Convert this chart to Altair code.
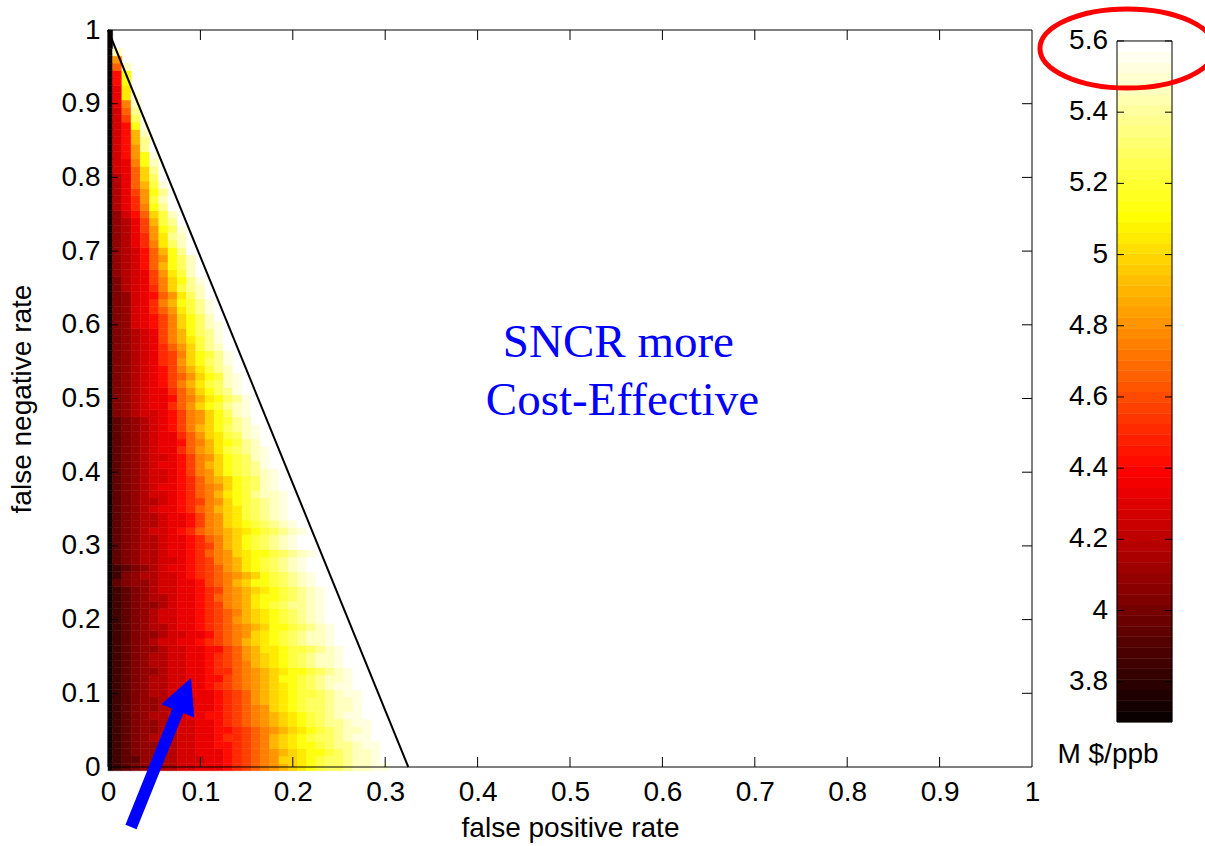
import altair as alt
import pandas as pd

# ---------------- data ----------------
# Heat map: one string per false-negative-rate row (0.00, 0.01, ... 1.00, bottom to top),
# one letter per false-positive-rate column (0.00, 0.01, ...). Letters are cost levels.
ROWS = [
    "acdeffgghhiiijklmnopqrstuuvwwxxyy",
    "acddffgghhhiijklmnoqqrstuuvwwxyyy",
    "acdeffgghhiiijklmnopqrsstuvwwxyy",
    "acdeffgghhiijjklmnpqrsstuvvwxxyy",
    "acdefggghhiijkklmnpqrstuuvwxxyyy",
    "acdeffgghhiijjklmnopqrstuvwwxyy",
    "acdeffgghhiijklmnopqrstuvvwxxyy",
    "acdefgghhiijjklmnopqrstuvwxxyyy",
    "acdeffgghhiijklmnoqrstuuvwwxyy",
    "acdeffgghhiijklmopqrstuuvwwxyy",
    "acdefgghhiiijklmopqrsttuvwxxyy",
    "acdefgghhiijklmnopqrstuvwxxyy",
    "acdefgghhiijjlmnopqsstuvwwxyy",
    "acdeffghhiijkkmnopqrsstuvwxyy",
    "acdefgghhiijklmnpqrstuvwwxyy",
    "acdefgghhiijklmopqrstuvwwxyy",
    "acdeffghhiijjlmoprrsttuvwxyy",
    "acdefghhiijklmnpqrstuvwwxyy",
    "acdeffghhiijlmnoqrstuvwwxyy",
    "acdefgghiijklmnopqsstuvwxyy",
    "acdefghhiijklmopqrstuvwxyyy",
    "acdefghhiijklmnpqrstuvwxyy",
    "acdeffghiijklnoprstuvvwxyy",
    "acdefgghiijkmnoprsstuvwxyy",
    "acdefghhiijklnopqrstuvwxy",
    "adeffghhiijlmnpqsstuvwxyy",
    "acefgghhijklmnopqstuvwxyy",
    "acdefghiijklmoprstuvwxyy",
    "adefgghhijklnoprstuvwxyy",
    "adefgghiijkmnoqrsstuvwxy",
    "adefgghiijklnpqstuvwxyy",
    "adefgghiijkmnpqstuvwxyy",
    "adefghhijkmnopqrstuvwxy",
    "adefgghiijlnoqrstuvwxy",
    "adefgghiijlnoqrtuvwxyy",
    "adefghiijkmnpqrtuvwxyy",
    "adefgghijklnoqstuvwxy",
    "adefghhijkmnprstvwwxy",
    "adefghiijkmnoqstuwxyy",
    "adefghhijkmopqstuwxy",
    "adefghhijlnoqstuvwxy",
    "adefghiijlnpqstuvxyy",
    "adefghhijlnoqstuwxy",
    "adefghiikmoprtuvwxy",
    "adefghiijmnprstvwyy",
    "adefghiikmoqrtuwxy",
    "adefghijlnpqsuvwxy",
    "adefghijlnoqstvwyy",
    "aefghhijlnoqsuwxy",
    "aefghiikmoqstvwxy",
    "aefghiijmnprsuvxy",
    "aefghiikmoqsuvxy",
    "aefghijlnprtuwxy",
    "aefghijlmoqstwxy",
    "aefghijlnprtvwy",
    "aefghikloqsuvxy",
    "aefghiklnqstvxy",
    "aefghikmoqtvwy",
    "aefghilnprtvxy",
    "aefghilnpsuvxy",
    "aefhijlnqsuwxy",
    "aefhijlnqsuwy",
    "aefhikmortvxy",
    "aefhiknpstvxy",
    "aefhijmoruwy",
    "aeghiknqtvwy",
    "aeghilnqsvxy",
    "afghilortwy",
    "afghjmpsuwy",
    "afghjmosuwy",
    "afghjmpsvy",
    "afgiknruwy",
    "afgikorvwy",
    "afgilosux",
    "afgilptvy",
    "afhjmqtwy",
    "agiknsvy",
    "agikotwy",
    "agilosvy",
    "agimptx",
    "agimquy",
    "ahimqvy",
    "ahinsw",
    "ahjosx",
    "ahjovy",
    "ahjpv",
    "ahjpw",
    "ahjsx",
    "ahlu",
    "ahmv",
    "ainw",
    "airx",
    "air",
    "ajs",
    "ajs",
    "amw",
    "ao",
    "aw",
    "a",
    "a",
    "a",
]
LEVEL_CODES = "abcdefghijklmnopqrstuvwxy"
LEVEL_VALUES = [3.70, 3.78, 3.86, 3.94, 4.02, 4.10, 4.18, 4.26, 4.34, 4.42,
                4.50, 4.58, 4.66, 4.74, 4.82, 4.90, 4.98, 5.06, 5.14, 5.22,
                5.30, 5.38, 5.46, 5.54, 5.62]
GRID_STEP = 0.01

AXIS_TICKS = [0, 0.1, 0.2, 0.3, 0.4, 0.5, 0.6, 0.7, 0.8, 0.9, 1]
CBAR_TICKS = [3.8, 4.0, 4.2, 4.4, 4.6, 4.8, 5.0, 5.2, 5.4, 5.6]
CBAR_TICK_LABELS = ["3.8", "4", "4.2", "4.4", "4.6", "4.8", "5", "5.2", "5.4", "5.6"]
CBAR_RANGE = [3.687, 5.6]
CBAR_UNIT = ["M $/ppb"]
# part of the vertical axis (0..1) that the colour bar spans, bottom and top
CBAR_SPAN = [0.0611, 0.9851]

BOUNDARY_X = [0.0, 0.325]
BOUNDARY_Y = [1.0, 0.0]

NOTE_TEXT = ["SNCR more", "Cost-Effective"]
NOTE_X = [0.5524, 0.5568]
NOTE_Y = [0.5563, 0.4776]

ARROW_TAIL = [0.0249, -0.0814]
ARROW_HEAD = [0.0827, 0.0984]
ARROW_ANGLE = 21.96

ELLIPSE_CENTER = [1.1032, 0.9749]

# ---------------- helpers ----------------
def hot64():
    cols = []
    for j in range(1, 65):
        r = min(j / 24, 1.0)
        g = min(max((j - 24) / 24, 0.0), 1.0)
        b = min(max((j - 48) / 16, 0.0), 1.0)
        cols.append("#%02x%02x%02x" % (round(r * 255), round(g * 255), round(b * 255)))
    return cols

HOT = hot64()
lookup = dict(zip(LEVEL_CODES, LEVEL_VALUES))

recs = []
for k, row in enumerate(ROWS):
    yc = k * GRID_STEP
    for i, ch in enumerate(row):
        xc = i * GRID_STEP
        recs.append({
            "x0": max(0.0, xc - GRID_STEP / 2), "x1": xc + GRID_STEP / 2,
            "y0": yc - GRID_STEP / 2, "y1": min(1.0, yc + GRID_STEP / 2),
            "v": lookup[ch],
        })
heat_df = pd.DataFrame(recs)

n_b = len(HOT)
b_step = (CBAR_RANGE[1] - CBAR_RANGE[0]) / n_b
bands_df = pd.DataFrame({
    "lo": [CBAR_RANGE[0] + j * b_step for j in range(n_b)],
    "hi": [CBAR_RANGE[0] + (j + 1) * b_step for j in range(n_b)],
    "mid": [CBAR_RANGE[0] + (j + 0.5) * b_step for j in range(n_b)],
})

FONT = "Liberation Sans"
SERIF = "Liberation Serif"
W, H = 924, 737
CB_X0, CB_X1 = 1009, 1064

# expression placing a colour-bar value on the vertical axis
_k = (CBAR_SPAN[1] - CBAR_SPAN[0]) / (CBAR_RANGE[1] - CBAR_RANGE[0])
def cb_pos(field):
    return f"{CBAR_SPAN[0]} + (datum.{field} - {CBAR_RANGE[0]}) * {_k}"

XS = alt.Scale(domain=[0, 1], nice=False, zero=False)
YS = alt.Scale(domain=[0, 1], nice=False, zero=False)
CS = alt.Scale(type="quantize", domain=CBAR_RANGE, range=HOT)

x_axis = alt.Axis(values=AXIS_TICKS, format="~g", title="false positive rate",
                  ticks=False, domain=False, grid=False, orient="bottom",
                  labelFont=FONT, labelFontSize=28, labelColor="black", labelPadding=11,
                  labelFlush=False, labelOverlap=False,
                  titleFont=FONT, titleFontSize=28, titleFontWeight="normal", titleColor="black",
                  titleX=W / 2, titleY=61, titleBaseline="middle", titleAlign="center")
y_axis = alt.Axis(values=AXIS_TICKS, format="~g", title="false negative rate",
                  ticks=False, domain=False, grid=False, orient="left",
                  labelFont=FONT, labelFontSize=28, labelColor="black", labelPadding=8,
                  labelFlush=False, labelOverlap=False,
                  titleFont=FONT, titleFontSize=28, titleFontWeight="normal", titleColor="black",
                  titleX=-86, titleY=H / 2, titleAngle=270, titleBaseline="middle", titleAlign="center")

heat = alt.Chart(heat_df).mark_rect(strokeWidth=0.5).encode(
    x=alt.X("x0:Q", scale=XS, axis=x_axis), x2="x1:Q",
    y=alt.Y("y0:Q", scale=YS, axis=y_axis), y2="y1:Q",
    color=alt.Color("v:Q", scale=CS, legend=None),
    stroke=alt.Stroke("v:Q", scale=CS, legend=None),
)

box = alt.Chart(pd.DataFrame({"x0": [0.0], "x1": [1.0], "y0": [0.0], "y1": [1.0]})).mark_rect(
    fill="transparent", stroke="black", strokeWidth=1).encode(
    x=alt.X("x0:Q", scale=XS), x2="x1:Q",
    y=alt.Y("y0:Q", scale=YS), y2="y1:Q")

tick_df = pd.DataFrame({"t": AXIS_TICKS[1:-1]})
TL = 10
t_bottom = alt.Chart(tick_df).mark_rule(color="black", strokeWidth=1).encode(
    x=alt.X("t:Q", scale=XS), y=alt.value(H), y2=alt.value(H - TL))
t_top = alt.Chart(tick_df).mark_rule(color="black", strokeWidth=1).encode(
    x=alt.X("t:Q", scale=XS), y=alt.value(0), y2=alt.value(TL))
t_left = alt.Chart(tick_df).mark_rule(color="black", strokeWidth=1).encode(
    y=alt.Y("t:Q", scale=YS), x=alt.value(0), x2=alt.value(TL))
t_right = alt.Chart(tick_df).mark_rule(color="black", strokeWidth=1).encode(
    y=alt.Y("t:Q", scale=YS), x=alt.value(W), x2=alt.value(W - TL))

bnd = alt.Chart(pd.DataFrame({"x": BOUNDARY_X, "y": BOUNDARY_Y})).mark_line(
    color="black", strokeWidth=2).encode(
    x=alt.X("x:Q", scale=XS), y=alt.Y("y:Q", scale=YS))

notes = alt.Chart(pd.DataFrame({"x": NOTE_X, "y": NOTE_Y, "t": NOTE_TEXT})).mark_text(
    font=SERIF, fontSize=47, color="#0000ff", align="center", baseline="alphabetic").encode(
    x=alt.X("x:Q", scale=XS), y=alt.Y("y:Q", scale=YS), text="t:N")

arrow_df = pd.DataFrame({"x": [ARROW_TAIL[0]], "y": [ARROW_TAIL[1]],
                         "x2": [ARROW_HEAD[0]], "y2": [ARROW_HEAD[1]]})
shaft = alt.Chart(arrow_df).mark_rule(color="#0000ff", strokeWidth=12, strokeCap="butt").encode(
    x=alt.X("x:Q", scale=XS), y=alt.Y("y:Q", scale=YS),
    x2="x2:Q", y2="y2:Q")
head = alt.Chart(arrow_df).mark_point(
    shape="M0,-1L1,1L-1,1Z", size=1260, angle=ARROW_ANGLE, filled=True,
    color="#0000ff", opacity=1, strokeWidth=0).encode(
    x=alt.X("x2:Q", scale=XS), y=alt.Y("y2:Q", scale=YS))

# colour bar
cb_bands = alt.Chart(bands_df).transform_calculate(
    ylo=cb_pos("lo"), yhi=cb_pos("hi")
).mark_rect(strokeWidth=0.5).encode(
    x=alt.value(CB_X0), x2=alt.value(CB_X1),
    y=alt.Y("ylo:Q", scale=YS), y2="yhi:Q",
    color=alt.Color("mid:Q", scale=CS, legend=None),
    stroke=alt.Stroke("mid:Q", scale=CS, legend=None))
cb_frame = alt.Chart(pd.DataFrame({"lo": [CBAR_RANGE[0]], "hi": [CBAR_RANGE[1]]})).transform_calculate(
    ylo=cb_pos("lo"), yhi=cb_pos("hi")
).mark_rect(fill="transparent", stroke="black", strokeWidth=1).encode(
    x=alt.value(CB_X0), x2=alt.value(CB_X1),
    y=alt.Y("ylo:Q", scale=YS), y2="yhi:Q")
cbt_df = pd.DataFrame({"t": CBAR_TICKS, "label": CBAR_TICK_LABELS})
cb_tl = alt.Chart(cbt_df).transform_calculate(yt=cb_pos("t")).mark_rule(
    color="black", strokeWidth=1).encode(
    y=alt.Y("yt:Q", scale=YS), x=alt.value(CB_X0), x2=alt.value(CB_X0 + 7))
cb_tr = alt.Chart(cbt_df).transform_calculate(yt=cb_pos("t")).mark_rule(
    color="black", strokeWidth=1).encode(
    y=alt.Y("yt:Q", scale=YS), x=alt.value(CB_X1), x2=alt.value(CB_X1 - 7))
cb_lab = alt.Chart(cbt_df).transform_calculate(yt=cb_pos("t")).mark_text(
    font=FONT, fontSize=28, color="black", align="right", baseline="middle").encode(
    y=alt.Y("yt:Q", scale=YS), x=alt.value(CB_X0 - 9), text="label:N")
cb_unit = alt.Chart(pd.DataFrame({"u": CBAR_UNIT})).mark_text(
    font=FONT, fontSize=28, color="black", align="center", baseline="alphabetic").encode(
    x=alt.value(1000), y=alt.value(733), text="u:N")

# red ellipse highlighting the top of the colour bar
ELLIPSE_PATH = ("M1,0C1,0.2496,0.5523,0.452,0,0.452C-0.5523,0.452,-1,0.2496,-1,0"
                "C-1,-0.2496,-0.5523,-0.452,0,-0.452C0.5523,-0.452,1,-0.2496,1,0Z")
ell = alt.Chart(pd.DataFrame({"x": [ELLIPSE_CENTER[0]], "y": [ELLIPSE_CENTER[1]]})).mark_point(
    shape=ELLIPSE_PATH, size=30555, filled=False, color="#ff0000", strokeWidth=5, opacity=1).encode(
    x=alt.X("x:Q", scale=XS), y=alt.Y("y:Q", scale=YS))

chart = alt.layer(
    heat, box, t_bottom, t_top, t_left, t_right, bnd, notes, shaft, head,
    cb_bands, cb_frame, cb_tl, cb_tr, cb_lab, cb_unit, ell,
).properties(
    width=W, height=H,
    padding={"left": 108, "top": 30, "right": 173, "bottom": 79},
    autosize=alt.AutoSizeParams(type="none"),
    background="white",
).configure_view(strokeWidth=0)

chart.save("out.html", embed_options={"renderer": "svg", "actions": False})
